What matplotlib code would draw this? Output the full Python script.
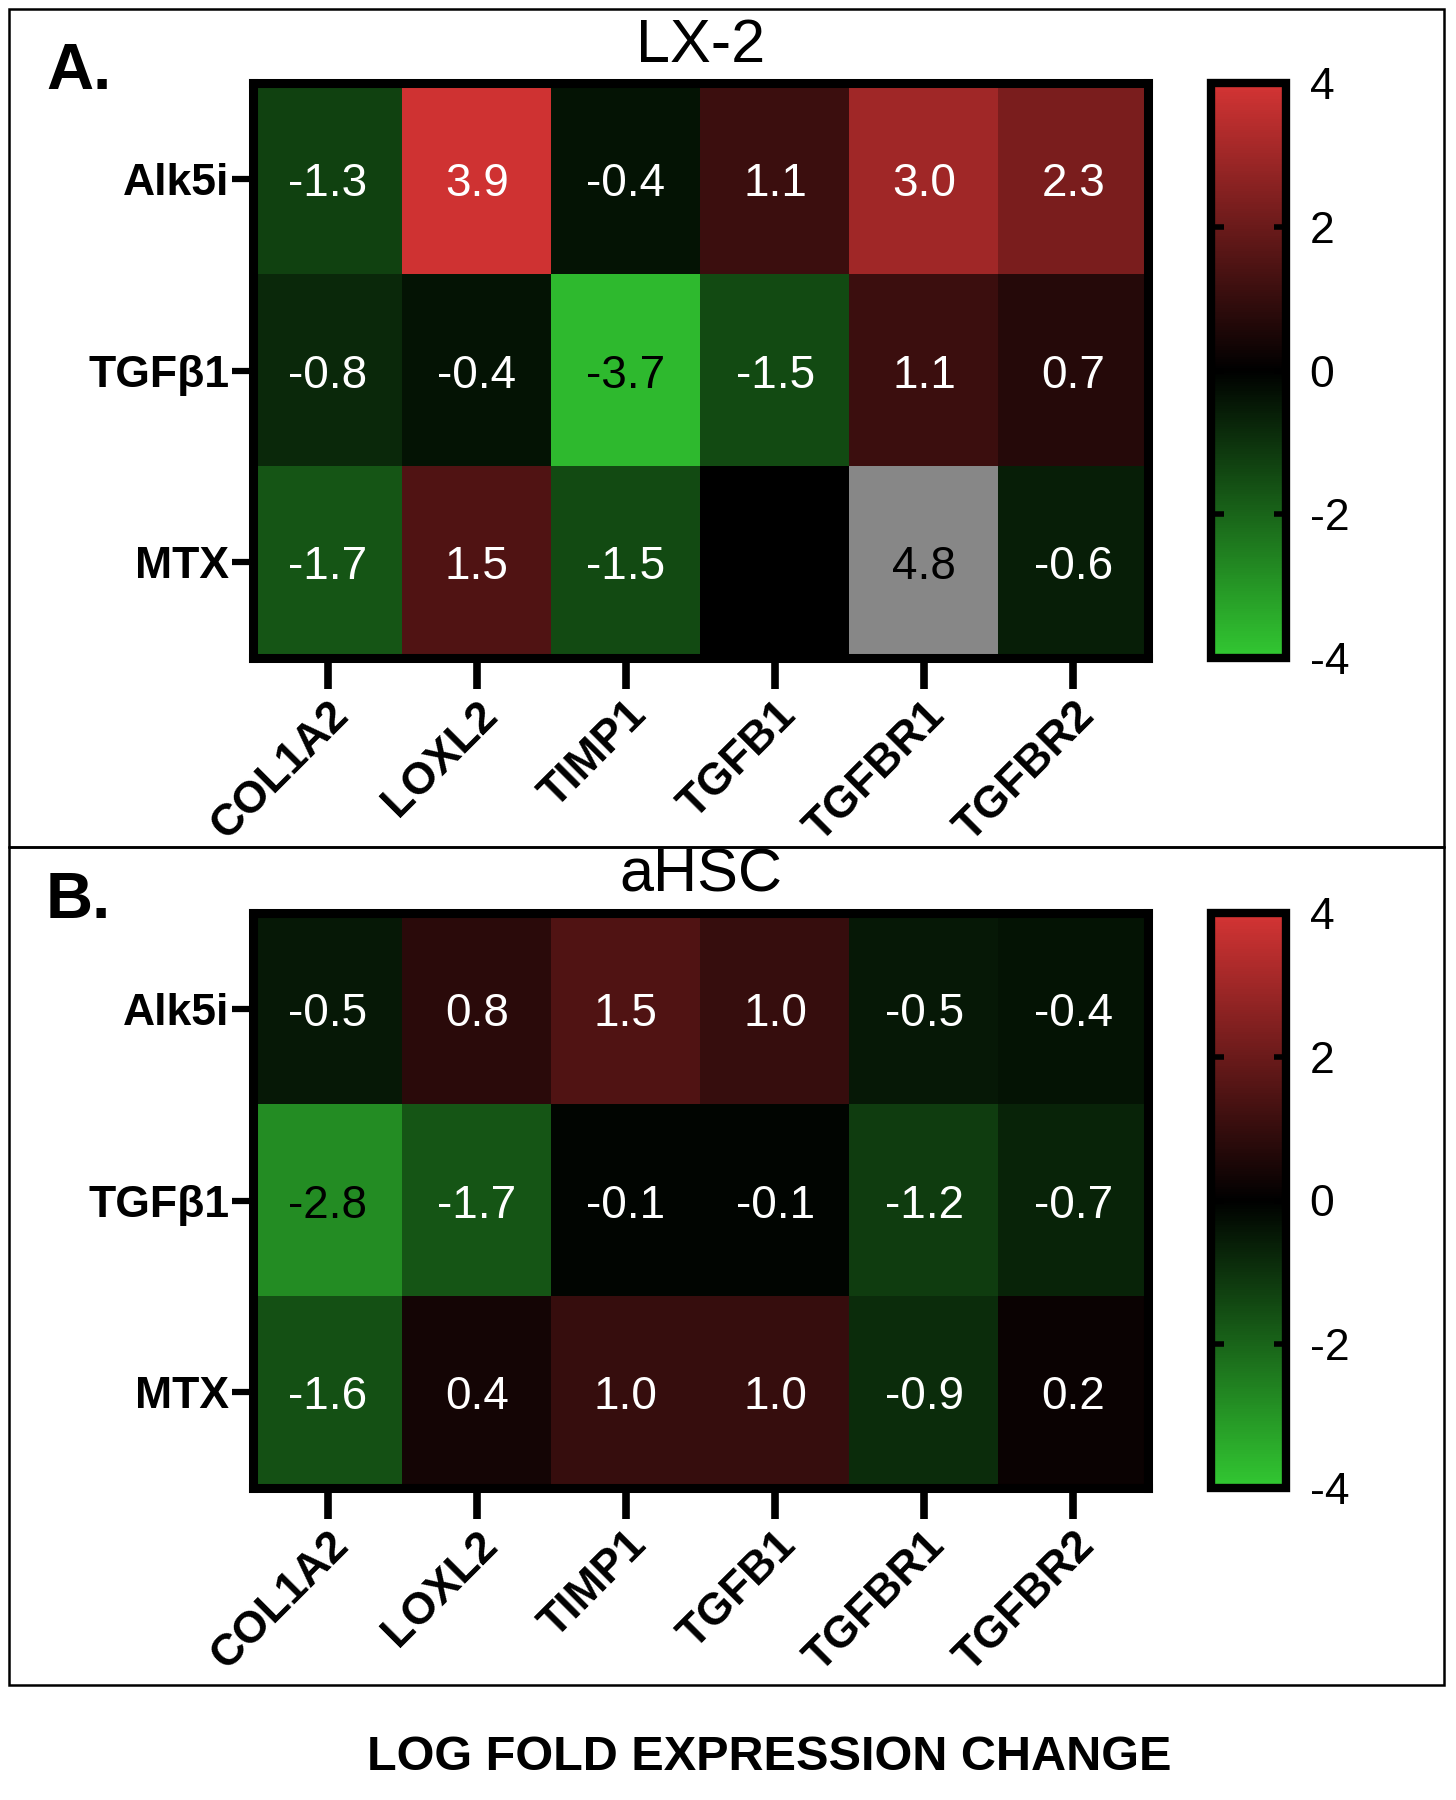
import numpy as np
import matplotlib
matplotlib.use("Agg")
import matplotlib.pyplot as plt
from matplotlib.colors import LinearSegmentedColormap
from matplotlib.patches import Rectangle

plt.rcParams['font.family'] = ['Liberation Sans', 'DejaVu Sans']
plt.rcParams['axes.unicode_minus'] = False

genes = ["COL1A2", "LOXL2", "TIMP1", "TGFB1", "TGFBR1", "TGFBR2"]
treatments = ["Alk5i", "TGFβ1", "MTX"]

lx2_alk5i = [-1.3, 3.9, -0.4, 1.1, 3.0, 2.3]
lx2_tgfb1 = [-0.8, -0.4, -3.7, -1.5, 1.1, 0.7]
lx2_mtx = [-1.7, 1.5, -1.5, np.nan, 4.8, -0.6]

ahsc_alk5i = [-0.5, 0.8, 1.5, 1.0, -0.5, -0.4]
ahsc_tgfb1 = [-2.8, -1.7, -0.1, -0.1, -1.2, -0.7]
ahsc_mtx = [-1.6, 0.4, 1.0, 1.0, -0.9, 0.2]

panel_titles = ["LX-2", "aHSC"]
panel_letters = ["A.", "B."]
cbar_ticks = [-4, -2, 0, 2, 4]
vmin, vmax = -4, 4

cmap = LinearSegmentedColormap.from_list(
    "gbr", [(50/255, 200/255, 50/255), (0, 0, 0), (212/255, 52/255, 52/255)])
cmap.set_over("#878787")
cmap.set_bad("black")

W, H = 1456, 1800
fig = plt.figure(figsize=(W/100, H/100), dpi=100)

def fx(px):
    return px / W

def fy(py):
    return 1 - py / H

panels = [
    dict(data=np.array([lx2_alk5i, lx2_tgfb1, lx2_mtx]), top=83, bottom=658,
         title_y=46, letter_y=72),
    dict(data=np.array([ahsc_alk5i, ahsc_tgfb1, ahsc_mtx]), top=913, bottom=1488,
         title_y=876, letter_y=901),
]

hm_left, hm_right = 253, 1148
cb_left, cb_right = 1211, 1286

for i, p in enumerate(panels):
    ax = fig.add_axes([fx(hm_left), fy(p['bottom']), fx(hm_right - hm_left),
                       (p['bottom'] - p['top']) / H])
    data = p['data']
    im = ax.imshow(np.ma.masked_invalid(data), cmap=cmap, vmin=vmin, vmax=vmax,
                   aspect='auto', interpolation='nearest')
    for r in range(data.shape[0]):
        for c in range(data.shape[1]):
            v = data[r, c]
            if np.isnan(v):
                continue
            col = 'black' if (v <= -2.5 or v > vmax) else 'white'
            ax.text(c, r, f"{v:.1f}", ha='center', va='center_baseline',
                    color=col, fontsize=33)
    ax.set_xticks(range(len(genes)))
    ax.set_xticklabels(genes, rotation=45, ha='right', va='top',
                       rotation_mode='anchor', fontsize=32, fontweight='bold')
    ax.set_yticks(range(len(treatments)))
    ax.set_yticklabels(treatments, fontsize=32, fontweight='bold')
    ax.tick_params(axis='x', length=22, width=5.5, pad=4)
    ax.tick_params(axis='y', length=15, width=4.5, pad=2)
    for s in ax.spines.values():
        s.set_linewidth(6.5)
    ax.text(0.5, 1 + (p['top'] - p['title_y']) / (p['bottom'] - p['top']),
            panel_titles[i], transform=ax.transAxes, ha='center', va='center',
            fontsize=44)
    fig.text(fx(46), fy(p['letter_y']), panel_letters[i], ha='left',
             va='center', fontsize=47, fontweight='bold')

    cax = fig.add_axes([fx(cb_left), fy(p['bottom']), fx(cb_right - cb_left),
                        (p['bottom'] - p['top']) / H])
    cb = fig.colorbar(im, cax=cax, ticks=cbar_ticks)
    cb.outline.set_linewidth(6)
    cax.tick_params(axis='y', direction='in', length=9, width=4, left=True,
                    right=True, labelsize=32, pad=17)
    cax.set_yticklabels([str(t) for t in cbar_ticks])

# panel frames
lw = 1.8
fig.add_artist(Rectangle((fx(9), fy(847)), fx(1444 - 9), (847 - 9) / H,
                         fill=False, lw=lw, ec='black',
                         transform=fig.transFigure))
fig.add_artist(Rectangle((fx(9), fy(1685)), fx(1444 - 9), (1685 - 847) / H,
                         fill=False, lw=lw, ec='black',
                         transform=fig.transFigure))

fig.text(fx(769), fy(1757), "LOG FOLD EXPRESSION CHANGE", ha='center',
         va='center', fontsize=35, fontweight='bold')

fig.savefig("out.png", dpi=100, facecolor='white')
